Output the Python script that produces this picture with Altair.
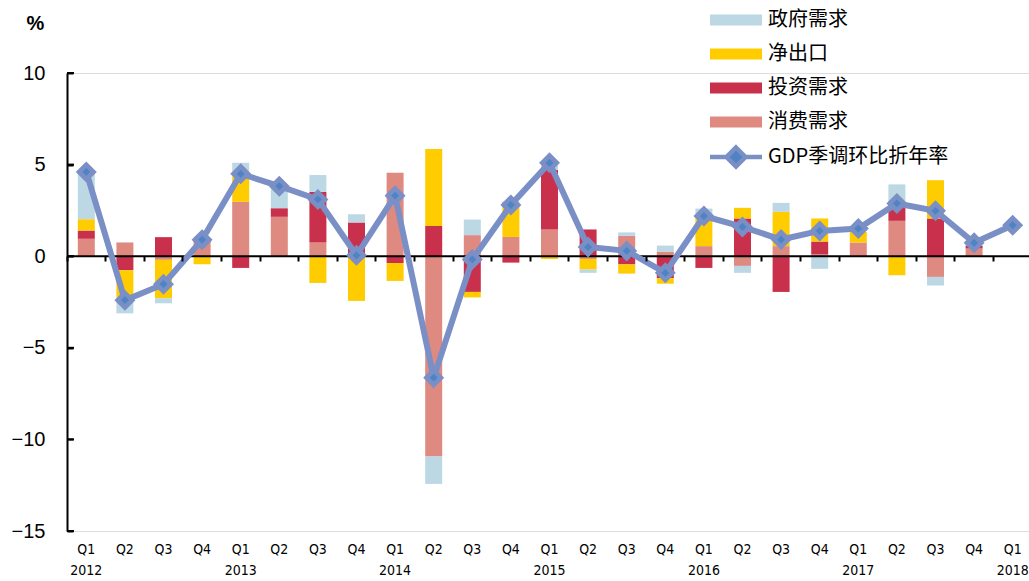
import altair as alt
import pandas as pd

quarters = ["2012Q1", "2012Q2", "2012Q3", "2012Q4",
            "2013Q1", "2013Q2", "2013Q3", "2013Q4",
            "2014Q1", "2014Q2", "2014Q3", "2014Q4",
            "2015Q1", "2015Q2", "2015Q3", "2015Q4",
            "2016Q1", "2016Q2", "2016Q3", "2016Q4",
            "2017Q1", "2017Q2", "2017Q3", "2017Q4",
            "2018Q1"]

consumption = [0.95, 0.75, -0.20, 0.75, 2.97, 2.15, 0.75, 0.10, 4.55, -10.93, 1.15, 1.05,
               1.46, -0.15, 1.11, 0.25, 0.55, -0.53, 0.55, 0.10, 0.75, 1.93, -1.13, 0.42, None]
investment = [0.45, -0.77, 1.04, 0.15, -0.64, 0.47, 2.76, 1.74, -0.37, 1.65, -1.95, -0.35,
              3.24, 1.46, -0.45, -1.20, -0.64, 2.06, -1.95, 0.70, 0.00, 0.77, 2.06, 0.15, None]
net_exports = [0.62, -1.45, -2.10, -0.44, 1.36, 0.00, -1.46, -2.44, -0.98, 4.20, -0.30, 1.74,
               -0.15, -0.58, -0.50, -0.30, 1.60, 0.58, 1.87, 1.26, 0.58, -1.04, 2.09, 0.00, None]
government = [2.60, -0.90, -0.27, 0.10, 0.77, 1.30, 0.92, 0.45, 0.00, -1.50, 0.85, 0.20,
              0.30, -0.18, 0.19, 0.33, 0.45, -0.38, 0.49, -0.69, 0.00, 1.22, -0.47, 0.10, None]
gdp = [4.60, -2.40, -1.53, 0.90, 4.50, 3.82, 3.10, 0.05, 3.30, -6.63, -0.18, 2.80,
       5.10, 0.50, 0.29, -0.91, 2.19, 1.60, 0.91, 1.38, 1.51, 2.88, 2.48, 0.73, 1.69]

components = ["政府需求", "净出口", "投资需求", "消费需求"]
comp_colors = ["#bcd8e4", "#ffcc00", "#c9304b", "#df8a80"]
gdp_name = "GDP季调环比折年率"
y_ticks = [-15, -10, -5, 0, 5, 10]

series = [("消费需求", consumption, 1), ("投资需求", investment, 2),
          ("净出口", net_exports, 3), ("政府需求", government, 4)]
rows = []
for i, q in enumerate(quarters):
    for name, vals, ordv in series:
        if vals[i] is None:
            continue
        rows.append({"q": q, "comp": name, "v": vals[i], "ord": ordv})
bars_df = pd.DataFrame(rows)
gdp_df = pd.DataFrame({"q": quarters, "gdp": gdp, "series": [gdp_name] * len(quarters)})
ticks_df = pd.DataFrame({"t": y_ticks})
zero_df = pd.DataFrame({"z": [0]})

W, H = 962, 458
xscale = alt.Scale(domain=quarters, range=[0, 965], paddingInner=0, paddingOuter=0)
yscale = alt.Scale(domain=[-15, 10], nice=False, zero=False)

num_font = "Liberation Sans"
narrow_font = "Liberation Sans Narrow, DejaVu Sans Condensed, Arial Narrow, sans-serif"
cjk_font = "Noto Sans CJK SC"

bars = alt.Chart(bars_df).mark_bar(size=17).encode(
    x=alt.X("q:N", scale=xscale, sort=quarters,
            axis=alt.Axis(orient="bottom", offset=-(H - 183), title=None, labels=False,
                          domain=False, ticks=True, tickSize=5, tickWidth=2, tickColor="black",
                          bandPosition=0, zindex=1, grid=False)),
    y=alt.Y("v:Q", scale=yscale, stack="zero",
            axis=alt.Axis(orient="left", values=y_ticks, title="%", titleAngle=0,
                          titleX=-32, titleY=-50,
                          titleAlign="center", titleBaseline="middle", titleFontSize=20,
                          titleFontWeight="bold", titleFont=num_font, titleColor="black",
                          ticks=False, labelPadding=22, labelFontSize=20, labelFont=num_font,
                          labelColor="black", domain=True, domainColor="black", domainWidth=2,
                          grid=False, labels=True)),
    color=alt.Color("comp:N", scale=alt.Scale(domain=components, range=comp_colors),
                    legend=alt.Legend(title=None, orient="none", legendX=659, legendY=-63,
                                      symbolType="M-5.2,-1.1L5.2,-1.1L5.2,1.1L-5.2,1.1Z",
                                      symbolSize=100, symbolStrokeWidth=0, labelOffset=22,
                                      labelFontSize=20, labelFont=cjk_font, labelColor="black",
                                      labelLimit=0, rowPadding=14, padding=0)),
    order=alt.Order("ord:Q"),
)

zero_line = alt.Chart(zero_df).mark_rule(color="black", strokeWidth=2).encode(
    y=alt.Y("z:Q", scale=yscale, axis=None)
)

# inward-pointing y ticks: a right-oriented axis moved onto the left edge
y_tick_marks = alt.Chart(ticks_df).mark_tick(color="black", thickness=2, size=7,
                                             orient="horizontal", opacity=1).encode(
    y=alt.Y("t:Q", scale=yscale,
            axis=alt.Axis(orient="right", offset=-W, values=y_ticks, labels=False,
                          domain=False, ticks=True, tickSize=6, tickWidth=2,
                          tickColor="black", grid=False, title=None, zindex=1)),
    x=alt.value(3.5),
)

label_expr = ("slice(datum.value,4)=='Q1' ? [slice(datum.value,4), slice(datum.value,0,4)]"
              " : [slice(datum.value,4), '']")

line = alt.Chart(gdp_df).mark_line(strokeWidth=6).encode(
    x=alt.X("q:N", scale=xscale, sort=quarters,
            axis=alt.Axis(orient="bottom", title=None, domain=False, ticks=False, grid=False,
                          labelExpr=label_expr, labelAngle=0, labelPadding=11,
                          labelFontSize=14, labelFont=narrow_font, labelColor="black",
                          labelLineHeight=21, labelBaseline="top")),
    y=alt.Y("gdp:Q", scale=yscale, axis=None),
    stroke=alt.Stroke("series:N", scale=alt.Scale(domain=[gdp_name], range=["#7b8fc7"]),
                      legend=alt.Legend(title=None, orient="none", legendX=659, legendY=74,
                                        symbolType="M-5.2,0L-1.9,0M1.9,0L5.2,0M0,-1.9L1.9,0L0,1.9L-1.9,0Z",
                                        symbolSize=100, symbolStrokeWidth=4.5,
                                        symbolFillColor="#4f84c4", labelOffset=22,
                                        labelFontSize=20, labelFont=cjk_font, labelColor="black",
                                        labelLimit=0, padding=0)),
)

points = alt.Chart(gdp_df).mark_point(shape="diamond", filled=True, fill="#4f84c4",
                                      stroke="#7b8fc7", strokeWidth=4.6, size=210,
                                      opacity=1).encode(
    x=alt.X("q:N", scale=xscale, sort=quarters, axis=None),
    y=alt.Y("gdp:Q", scale=yscale, axis=None),
)

chart = alt.layer(bars, zero_line, y_tick_marks, line, points).resolve_axis(
    x="independent", y="independent"
).properties(
    width=W, height=H,
    padding={"left": 67, "top": 73, "right": 0, "bottom": 50},
    autosize=alt.AutoSizeParams(type="none"),
).configure_view(stroke=None).configure(background="white")

chart.save("out.html", embed_options={"renderer": "svg", "actions": False})
